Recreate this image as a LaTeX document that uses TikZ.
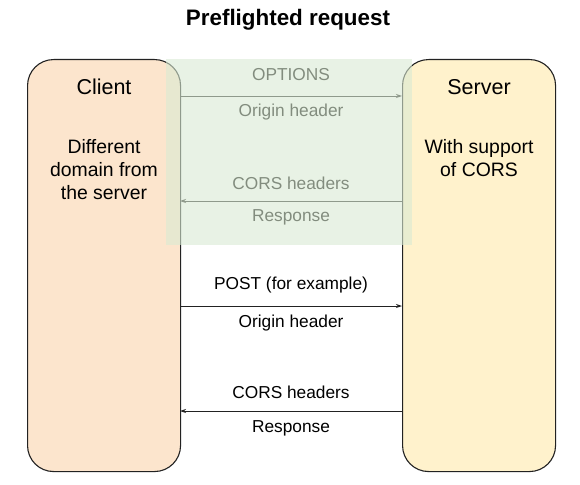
\documentclass[tikz,border=0pt]{standalone}
\usepackage{fontspec}
\setmainfont{Liberation Sans}
\usetikzlibrary{arrows.meta}
\definecolor{clientfill}{HTML}{FCE5CD}
\definecolor{serverfill}{HTML}{FFF2CC}
\definecolor{overlayfill}{HTML}{D9EAD3}
\definecolor{edge}{HTML}{222222}
\begin{document}
\begin{tikzpicture}[x=1pt,y=-1pt,
  party/.style={draw=edge,line width=1.1pt,rounded corners=26pt,minimum width=153pt,minimum height=412pt,anchor=north west,inner sep=0pt},
  title/.style={font=\fontsize{21.5}{25}\selectfont},
  body/.style={font=\fontsize{19.4}{23}\selectfont,align=center},
  lbl/.style={font=\fontsize{17.3}{20}\selectfont},
  msg/.style={draw=edge,line width=0.9pt,-{Stealth[length=6pt,width=4pt]}}]
\useasboundingbox (0,0) rectangle (580,484);
\node[font=\bfseries\fontsize{22.4}{26}\selectfont] (head) at (288,20) {Preflighted request};
\node[party,fill=clientfill] (client) at (27,59) {};
\node[party,fill=serverfill] (server) at (402,59) {};
\node[title] (ctitle) at (104,87) {Client};
\node[title] (stitle) at (479,87) {Server};
\node[body] (cdesc) at (104,170) {Different\\domain from\\the server};
\node[body] (sdesc) at (479,158.5) {With support\\of CORS};
\coordinate (c1) at (180,96);  \coordinate (s1) at (402,96);
\coordinate (c2) at (180,201); \coordinate (s2) at (402,201);
\coordinate (c3) at (180,306); \coordinate (s3) at (402,306);
\coordinate (c4) at (180,411); \coordinate (s4) at (402,411);
\draw[msg] (c1) -- (s1);
\draw[msg] (s2) -- (c2);
\draw[msg] (c3) -- (s3);
\draw[msg] (s4) -- (c4);
\node[lbl] (l1a) at (291,75) {OPTIONS};
\node[lbl] (l1b) at (291,112) {Origin header};
\node[lbl] (l2a) at (291,183.5) {CORS headers};
\node[lbl] (l2b) at (291,217) {Response};
\node[lbl] (l3a) at (291,285.5) {POST (for example)};
\node[lbl] (l3b) at (291,323) {Origin header};
\node[lbl] (l4a) at (291,392.5) {CORS headers};
\node[lbl] (l4b) at (291,428) {Response};
\fill[overlayfill,fill opacity=0.6] (166,59) rectangle (412,245);
\end{tikzpicture}
\end{document}
